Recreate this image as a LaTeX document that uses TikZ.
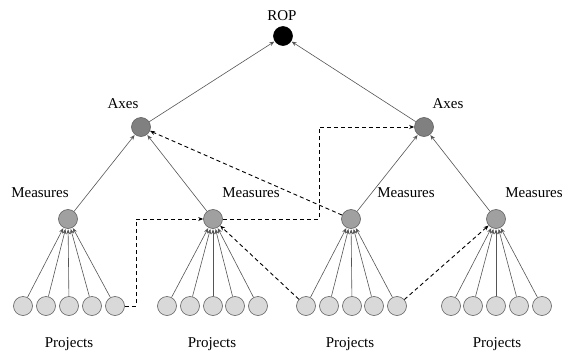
\documentclass[tikz,border=0pt]{standalone}
\usepackage{fontspec}
\setmainfont{Liberation Serif}
\usetikzlibrary{arrows.meta}
\definecolor{axfill}{HTML}{808080}
\definecolor{mefill}{HTML}{A0A0A0}
\definecolor{prfill}{HTML}{D9D9D9}
\definecolor{rim}{HTML}{606060}
\definecolor{edge}{HTML}{555555}
\begin{document}
\begin{tikzpicture}[x=1pt,y=-1pt,
  dot/.style={circle,draw=rim,line width=0.6pt,minimum size=19pt,inner sep=0pt},
  ropdot/.style={dot,fill=black,draw=black},
  axdot/.style={dot,fill=axfill},
  medot/.style={dot,fill=mefill},
  prdot/.style={dot,fill=prfill},
  lbl/.style={font=\fontsize{15}{17}\selectfont,inner sep=0pt},
  link/.style={draw=edge,line width=0.6pt,-{Stealth[length=5pt,width=4pt]},shorten >=0.5pt},
  dlink/.style={draw=black,line width=0.9pt,dash pattern=on 4pt off 3pt,-{Stealth[length=5pt,width=4pt]}}
]
\useasboundingbox (0,0) rectangle (574,362);
% top
\node[ropdot] (rop) at (283,36) {};
\node[lbl] (tRop) at (282,16) {ROP};
\node[axdot] (axL) at (141,127) {};
\node[axdot] (axR) at (424,127) {};
\node[lbl] (tAxL) at (123,104) {Axes};
\node[lbl] (tAxR) at (448,104) {Axes};
% measures
\node[medot] (m1) at (68,219) {};
\node[medot] (m2) at (213,219) {};
\node[medot] (m3) at (351,219) {};
\node[medot] (m4) at (496,219) {};
\node[lbl] (tM1) at (40,193) {Measures};
\node[lbl] (tM2) at (251,193) {Measures};
\node[lbl] (tM3) at (406,193) {Measures};
\node[lbl] (tM4) at (534,193) {Measures};
% projects
\foreach \g/\xs in {1/{23,46,69,92,115},2/{167,190,213,235,258},3/{306,329,352,374,397},4/{451,473,496,519,542}}{
  \foreach \x [count=\i] in \xs {
    \node[prdot] (p\g\i) at (\x,306) {};
  }
}
\node[lbl] (tP1) at (69,344) {Projects};
\node[lbl] (tP2) at (212,344) {Projects};
\node[lbl] (tP3) at (350,344) {Projects};
\node[lbl] (tP4) at (497,344) {Projects};
% solid arrows
\foreach \g in {1,2,3,4}{
  \foreach \i in {1,...,5}{
    \draw[link] (p\g\i) -- (m\g);
  }
}
\draw[link] (m1) -- (axL);
\draw[link] (m2) -- (axL);
\draw[link] (m3) -- (axR);
\draw[link] (m4) -- (axR);
\draw[link] (axL) -- (rop);
\draw[link] (axR) -- (rop);
% dashed arrows
\coordinate (k1) at (136,219);
\coordinate (k2) at (319,127);
\draw[dlink] (p15.east) -| (k1) -- (m2.west);
\draw[dlink] (m2.east) -| (k2) -- (axR.west);
\draw[dlink] (p31) -- (m2);
\draw[dlink] (m3) -- (axL);
\draw[dlink] (p35) -- (m4);
\end{tikzpicture}
\end{document}
